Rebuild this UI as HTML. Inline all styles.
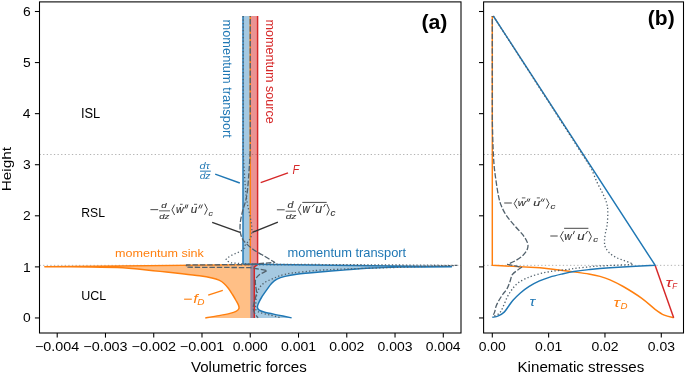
<!DOCTYPE html>
<html><head><meta charset="utf-8"><style>
html,body{margin:0;padding:0;background:#fff;overflow:hidden;}
svg{display:block;will-change:transform;}
text{font-family:"Liberation Sans", sans-serif;}
</style></head><body>
<svg width="685" height="373" viewBox="0 0 685 373">
<rect x="0" y="0" width="685" height="373" fill="#fff"/>
<line x1="39.50" y1="154.50" x2="461.00" y2="154.50" stroke="#b3b3b3" stroke-width="1.0" stroke-linecap="butt" stroke-dasharray="1.3,2.3"/>
<line x1="483.60" y1="154.50" x2="683.50" y2="154.50" stroke="#b3b3b3" stroke-width="1.0" stroke-linecap="butt" stroke-dasharray="1.3,2.3"/>
<line x1="39.50" y1="265.35" x2="461.00" y2="265.35" stroke="#b3b3b3" stroke-width="1.0" stroke-linecap="butt" stroke-dasharray="1.3,2.3"/>
<line x1="483.60" y1="265.35" x2="683.50" y2="265.35" stroke="#b3b3b3" stroke-width="1.0" stroke-linecap="butt" stroke-dasharray="1.3,2.3"/>
<path d="M250.25,16.00 L257.60,16.00 L257.60,264.60 L254.30,266.90 L254.30,317.95 L250.25,317.95 Z" fill="#d62728" fill-opacity="0.5" stroke="none"/>
<path d="M250.25,16.00 L243.00,16.00 L243.00,264.10 L451.50,266.80 C442.92,266.86 414.13,266.90 400.00,267.15 C385.87,267.40 376.13,267.81 366.70,268.30 C357.27,268.79 351.18,269.48 343.40,270.10 C335.62,270.72 327.78,271.30 320.00,272.00 C312.22,272.70 302.53,273.57 296.70,274.30 C290.87,275.03 288.28,275.58 285.00,276.40 C281.72,277.22 279.25,278.02 277.00,279.20 C274.75,280.38 273.25,281.67 271.50,283.50 C269.75,285.33 268.17,287.87 266.50,290.20 C264.83,292.53 262.85,295.28 261.50,297.50 C260.15,299.72 259.08,301.87 258.40,303.50 C257.72,305.13 257.27,306.18 257.40,307.30 C257.53,308.42 258.10,309.42 259.20,310.20 C260.30,310.98 260.83,311.18 264.00,312.00 C267.17,312.82 273.60,314.12 278.20,315.10 C282.80,316.08 289.37,317.39 291.60,317.85 L291.60,317.95 L250.25,317.95 Z" fill="#1f77b4" fill-opacity="0.4" stroke="none"/>
<path d="M250.25,264.60 L44.80,266.80 C52.33,266.83 77.00,266.85 90.00,267.00 C103.00,267.15 114.47,267.32 122.80,267.70 C131.13,268.08 133.80,268.68 140.00,269.30 C146.20,269.92 153.33,270.70 160.00,271.40 C166.67,272.10 173.42,272.77 180.00,273.50 C186.58,274.23 194.17,275.05 199.50,275.80 C204.83,276.55 208.75,277.27 212.00,278.00 C215.25,278.73 217.00,279.28 219.00,280.20 C221.00,281.12 222.42,282.12 224.00,283.50 C225.58,284.88 227.08,286.67 228.50,288.50 C229.92,290.33 231.25,292.50 232.50,294.50 C233.75,296.50 234.98,298.67 236.00,300.50 C237.02,302.33 238.13,304.12 238.60,305.50 C239.07,306.88 239.23,307.82 238.80,308.80 C238.37,309.78 237.47,310.63 236.00,311.40 C234.53,312.17 232.82,312.70 230.00,313.40 C227.18,314.10 223.22,314.84 219.10,315.60 C214.98,316.36 207.60,317.56 205.30,317.95 L250.25,317.95 Z" fill="#ff7f0e" fill-opacity="0.5" stroke="none"/>
<path d="M257.60,16.00 L257.60,264.60 L254.30,266.90 L254.30,317.95" fill="none" stroke="#d62728" stroke-width="1.45" stroke-linejoin="round" />
<path d="M250.25,16.00 L250.25,264.60 L44.80,266.80 C52.33,266.83 77.00,266.85 90.00,267.00 C103.00,267.15 114.47,267.32 122.80,267.70 C131.13,268.08 133.80,268.68 140.00,269.30 C146.20,269.92 153.33,270.70 160.00,271.40 C166.67,272.10 173.42,272.77 180.00,273.50 C186.58,274.23 194.17,275.05 199.50,275.80 C204.83,276.55 208.75,277.27 212.00,278.00 C215.25,278.73 217.00,279.28 219.00,280.20 C221.00,281.12 222.42,282.12 224.00,283.50 C225.58,284.88 227.08,286.67 228.50,288.50 C229.92,290.33 231.25,292.50 232.50,294.50 C233.75,296.50 234.98,298.67 236.00,300.50 C237.02,302.33 238.13,304.12 238.60,305.50 C239.07,306.88 239.23,307.82 238.80,308.80 C238.37,309.78 237.47,310.63 236.00,311.40 C234.53,312.17 232.82,312.70 230.00,313.40 C227.18,314.10 223.22,314.84 219.10,315.60 C214.98,316.36 207.60,317.56 205.30,317.95" fill="none" stroke="#ff7f0e" stroke-width="1.45" stroke-linejoin="round" />
<path d="M243.00,16.00 L243.00,264.10 L451.50,266.80 C442.92,266.86 414.13,266.90 400.00,267.15 C385.87,267.40 376.13,267.81 366.70,268.30 C357.27,268.79 351.18,269.48 343.40,270.10 C335.62,270.72 327.78,271.30 320.00,272.00 C312.22,272.70 302.53,273.57 296.70,274.30 C290.87,275.03 288.28,275.58 285.00,276.40 C281.72,277.22 279.25,278.02 277.00,279.20 C274.75,280.38 273.25,281.67 271.50,283.50 C269.75,285.33 268.17,287.87 266.50,290.20 C264.83,292.53 262.85,295.28 261.50,297.50 C260.15,299.72 259.08,301.87 258.40,303.50 C257.72,305.13 257.27,306.18 257.40,307.30 C257.53,308.42 258.10,309.42 259.20,310.20 C260.30,310.98 260.83,311.18 264.00,312.00 C267.17,312.82 273.60,314.12 278.20,315.10 C282.80,316.08 289.37,317.39 291.60,317.85" fill="none" stroke="#1f77b4" stroke-width="1.45" stroke-linejoin="round" />
<path d="M250.25,16.00 L250.25,150.00 C250.14,152.00 249.84,157.98 249.60,162.00 C249.36,166.02 249.15,169.40 248.80,174.10 C248.45,178.80 248.03,185.72 247.50,190.20 C246.97,194.68 246.43,197.45 245.60,201.00 C244.77,204.55 243.38,207.92 242.50,211.50 C241.62,215.08 240.67,219.07 240.30,222.50 C239.93,225.93 239.92,229.33 240.30,232.10 C240.68,234.87 241.63,237.22 242.60,239.10 C243.57,240.98 244.22,241.58 246.10,243.40 C247.98,245.22 251.07,248.00 253.90,250.00 C256.73,252.00 259.65,253.35 263.10,255.40 C266.55,257.45 272.68,261.15 274.60,262.30 L250.00,264.50 L186.40,265.00 L186.40,267.20 L250.00,267.60 L267.30,270.50 C265.97,271.22 261.25,273.30 259.30,274.80 C257.35,276.30 256.22,277.73 255.60,279.50 C254.98,281.27 255.45,283.22 255.60,285.40 C255.75,287.58 256.67,289.97 256.50,292.60 C256.33,295.23 255.15,298.70 254.60,301.20 C254.05,303.70 253.20,305.63 253.20,307.60 C253.20,309.57 253.80,311.28 254.60,313.00 C255.40,314.72 257.43,317.08 258.00,317.90" fill="none" stroke="#52616c" stroke-width="1.3" stroke-linejoin="round" stroke-dasharray="5.45,1.9" stroke-dashoffset="4.4" />
<path d="M243.20,16.00 L243.20,152.00 C243.37,155.00 243.87,164.50 244.20,170.00 C244.53,175.50 244.88,180.75 245.20,185.00 C245.52,189.25 245.67,192.02 246.10,195.50 C246.53,198.98 247.13,202.42 247.80,205.90 C248.47,209.38 249.43,212.90 250.10,216.40 C250.77,219.90 251.60,223.70 251.80,226.90 C252.00,230.10 251.82,233.28 251.30,235.60 C250.78,237.92 249.72,239.20 248.70,240.80 C247.68,242.40 246.22,243.67 245.20,245.20 C244.18,246.73 244.90,248.28 242.60,250.00 C240.30,251.72 234.15,253.88 231.40,255.50 C228.65,257.12 226.17,258.47 226.10,259.70 C226.03,260.93 230.18,262.37 231.00,262.90 L250.00,264.10 L400.00,265.00 L457.80,265.40 L400.00,267.30 C388.33,267.68 346.23,268.83 330.00,269.60 C313.77,270.37 310.10,271.12 302.60,271.90 C295.10,272.68 289.87,273.22 285.00,274.30 C280.13,275.38 276.90,276.95 273.40,278.40 C269.90,279.85 266.43,281.25 264.00,283.00 C261.57,284.75 260.05,286.73 258.80,288.90 C257.55,291.07 257.02,293.32 256.50,296.00 C255.98,298.68 255.80,302.70 255.70,305.00 C255.60,307.30 255.18,308.55 255.90,309.80 C256.62,311.05 257.65,311.63 260.00,312.50 C262.35,313.37 266.67,314.17 270.00,315.00 C273.33,315.83 278.33,317.08 280.00,317.50" fill="none" stroke="#52616c" stroke-width="1.3" stroke-linejoin="round" stroke-dasharray="1.3,2.2" />
<line x1="215.20" y1="174.10" x2="239.80" y2="183.00" stroke="#1f77b4" stroke-width="1.4" stroke-linecap="butt"/>
<line x1="260.70" y1="182.70" x2="288.00" y2="172.80" stroke="#d62728" stroke-width="1.4" stroke-linecap="butt"/>
<line x1="212.20" y1="222.30" x2="240.00" y2="232.30" stroke="#333" stroke-width="1.4" stroke-linecap="butt"/>
<line x1="277.90" y1="222.10" x2="252.40" y2="232.30" stroke="#333" stroke-width="1.4" stroke-linecap="butt"/>
<line x1="208.20" y1="295.10" x2="222.80" y2="290.30" stroke="#ff7f0e" stroke-width="1.4" stroke-linecap="butt"/>
<path d="M492.30,16.00 L492.30,265.30 L540.00,267.80 C543.13,268.17 553.17,269.32 558.80,270.00 C564.43,270.68 568.80,271.23 573.80,271.90 C578.80,272.57 584.43,273.25 588.80,274.00 C593.17,274.75 596.47,275.43 600.00,276.40 C603.53,277.37 606.13,278.12 610.00,279.80 C613.87,281.48 617.95,283.45 623.20,286.50 C628.45,289.55 636.18,294.30 641.50,298.10 C646.82,301.90 651.30,306.45 655.10,309.30 C658.90,312.15 661.22,313.80 664.30,315.20 C667.38,316.60 672.05,317.28 673.60,317.70" fill="none" stroke="#ff7f0e" stroke-width="1.45" stroke-linejoin="round" />
<path d="M655.10,265.20 L673.70,317.85" fill="none" stroke="#d62728" stroke-width="1.45" stroke-linejoin="round" />
<path d="M493.30,16.00 L655.10,265.20 C647.58,265.63 621.05,267.07 610.00,267.80 C598.95,268.53 594.83,268.98 588.80,269.60 C582.77,270.22 578.33,270.75 573.80,271.50 C569.27,272.25 565.58,273.17 561.60,274.10 C557.62,275.03 553.58,275.97 549.90,277.10 C546.22,278.23 542.95,279.35 539.50,280.90 C536.05,282.45 532.38,284.38 529.20,286.40 C526.02,288.42 523.10,290.68 520.40,293.00 C517.70,295.32 514.97,298.10 513.00,300.30 C511.03,302.50 510.07,304.23 508.60,306.20 C507.13,308.17 505.92,310.50 504.20,312.10 C502.48,313.70 500.28,314.92 498.30,315.80 C496.32,316.68 493.30,317.13 492.30,317.40" fill="none" stroke="#1f77b4" stroke-width="1.45" stroke-linejoin="round" />
<path d="M492.30,16.00 L492.30,120.00 C492.38,123.33 492.62,134.27 492.80,140.00 C492.98,145.73 493.15,149.80 493.40,154.40 C493.65,159.00 493.88,163.33 494.30,167.60 C494.72,171.87 495.23,175.43 495.90,180.00 C496.57,184.57 497.45,190.83 498.30,195.00 C499.15,199.17 499.70,201.65 501.00,205.00 C502.30,208.35 503.92,211.75 506.10,215.10 C508.28,218.45 511.27,221.75 514.10,225.10 C516.93,228.45 520.85,232.18 523.10,235.20 C525.35,238.22 526.90,240.87 527.60,243.20 C528.30,245.53 528.05,247.20 527.30,249.20 C526.55,251.20 524.97,253.35 523.10,255.20 C521.23,257.05 518.68,258.77 516.10,260.30 C513.52,261.83 509.02,263.72 507.60,264.40 L521.60,267.20 C520.92,267.70 519.05,268.97 517.50,270.20 C515.95,271.43 513.53,272.77 512.30,274.60 C511.07,276.43 510.97,278.87 510.10,281.20 C509.23,283.53 508.33,286.38 507.10,288.60 C505.87,290.82 504.05,292.55 502.70,294.50 C501.35,296.45 500.10,298.35 499.00,300.30 C497.90,302.25 496.83,304.23 496.10,306.20 C495.37,308.17 495.22,310.33 494.60,312.10 C493.98,313.87 492.77,316.02 492.40,316.80" fill="none" stroke="#52616c" stroke-width="1.3" stroke-linejoin="round" stroke-dasharray="5.45,1.9" stroke-dashoffset="4.4" />
<path d="M493.30,16.00 L580.00,150.70 C580.93,152.18 583.72,156.58 585.60,159.60 C587.48,162.62 589.42,165.07 591.30,168.80 C593.18,172.53 595.02,177.93 596.90,182.00 C598.78,186.07 600.98,189.70 602.60,193.20 C604.22,196.70 605.73,199.98 606.60,203.00 C607.47,206.02 607.70,207.73 607.80,211.30 C607.90,214.87 607.62,220.65 607.20,224.40 C606.78,228.15 605.75,230.97 605.30,233.80 C604.85,236.63 604.50,239.20 604.50,241.40 C604.50,243.60 604.53,245.13 605.30,247.00 C606.07,248.87 607.37,250.88 609.10,252.60 C610.83,254.32 613.35,256.03 615.70,257.30 C618.05,258.57 620.70,259.25 623.20,260.20 C625.70,261.15 629.07,262.30 630.70,263.00 C632.33,263.70 632.62,264.17 633.00,264.40 L595.00,266.20 C592.08,266.52 582.00,267.57 577.50,268.10 C573.00,268.63 572.60,268.82 568.00,269.40 C563.40,269.98 555.13,270.73 549.90,271.60 C544.67,272.47 540.53,273.48 536.60,274.60 C532.67,275.72 529.48,276.83 526.30,278.30 C523.12,279.77 519.95,281.45 517.50,283.40 C515.05,285.35 513.33,287.67 511.60,290.00 C509.87,292.33 508.58,294.45 507.10,297.40 C505.62,300.35 504.05,305.00 502.70,307.70 C501.35,310.40 500.68,312.08 499.00,313.60 C497.32,315.12 493.67,316.27 492.60,316.80" fill="none" stroke="#52616c" stroke-width="1.3" stroke-linejoin="round" stroke-dasharray="1.3,2.2" />
<rect x="39.5" y="1.9" width="421.50" height="331.10" fill="none" stroke="#000" stroke-width="1.07"/>
<rect x="483.6" y="1.9" width="199.90" height="331.10" fill="none" stroke="#000" stroke-width="1.07"/>
<line x1="34.90" y1="317.95" x2="39.50" y2="317.95" stroke="#000" stroke-width="1.07" stroke-linecap="butt"/>
<line x1="479.00" y1="317.95" x2="483.60" y2="317.95" stroke="#000" stroke-width="1.07" stroke-linecap="butt"/>
<line x1="34.90" y1="266.88" x2="39.50" y2="266.88" stroke="#000" stroke-width="1.07" stroke-linecap="butt"/>
<line x1="479.00" y1="266.88" x2="483.60" y2="266.88" stroke="#000" stroke-width="1.07" stroke-linecap="butt"/>
<line x1="34.90" y1="215.80" x2="39.50" y2="215.80" stroke="#000" stroke-width="1.07" stroke-linecap="butt"/>
<line x1="479.00" y1="215.80" x2="483.60" y2="215.80" stroke="#000" stroke-width="1.07" stroke-linecap="butt"/>
<line x1="34.90" y1="164.72" x2="39.50" y2="164.72" stroke="#000" stroke-width="1.07" stroke-linecap="butt"/>
<line x1="479.00" y1="164.72" x2="483.60" y2="164.72" stroke="#000" stroke-width="1.07" stroke-linecap="butt"/>
<line x1="34.90" y1="113.65" x2="39.50" y2="113.65" stroke="#000" stroke-width="1.07" stroke-linecap="butt"/>
<line x1="479.00" y1="113.65" x2="483.60" y2="113.65" stroke="#000" stroke-width="1.07" stroke-linecap="butt"/>
<line x1="34.90" y1="62.57" x2="39.50" y2="62.57" stroke="#000" stroke-width="1.07" stroke-linecap="butt"/>
<line x1="479.00" y1="62.57" x2="483.60" y2="62.57" stroke="#000" stroke-width="1.07" stroke-linecap="butt"/>
<line x1="34.90" y1="11.50" x2="39.50" y2="11.50" stroke="#000" stroke-width="1.07" stroke-linecap="butt"/>
<line x1="479.00" y1="11.50" x2="483.60" y2="11.50" stroke="#000" stroke-width="1.07" stroke-linecap="butt"/>
<line x1="57.21" y1="333.00" x2="57.21" y2="337.60" stroke="#000" stroke-width="1.07" stroke-linecap="butt"/>
<line x1="105.47" y1="333.00" x2="105.47" y2="337.60" stroke="#000" stroke-width="1.07" stroke-linecap="butt"/>
<line x1="153.73" y1="333.00" x2="153.73" y2="337.60" stroke="#000" stroke-width="1.07" stroke-linecap="butt"/>
<line x1="201.99" y1="333.00" x2="201.99" y2="337.60" stroke="#000" stroke-width="1.07" stroke-linecap="butt"/>
<line x1="250.25" y1="333.00" x2="250.25" y2="337.60" stroke="#000" stroke-width="1.07" stroke-linecap="butt"/>
<line x1="298.51" y1="333.00" x2="298.51" y2="337.60" stroke="#000" stroke-width="1.07" stroke-linecap="butt"/>
<line x1="346.77" y1="333.00" x2="346.77" y2="337.60" stroke="#000" stroke-width="1.07" stroke-linecap="butt"/>
<line x1="395.03" y1="333.00" x2="395.03" y2="337.60" stroke="#000" stroke-width="1.07" stroke-linecap="butt"/>
<line x1="443.29" y1="333.00" x2="443.29" y2="337.60" stroke="#000" stroke-width="1.07" stroke-linecap="butt"/>
<line x1="492.30" y1="333.00" x2="492.30" y2="337.60" stroke="#000" stroke-width="1.07" stroke-linecap="butt"/>
<line x1="548.63" y1="333.00" x2="548.63" y2="337.60" stroke="#000" stroke-width="1.07" stroke-linecap="butt"/>
<line x1="604.96" y1="333.00" x2="604.96" y2="337.60" stroke="#000" stroke-width="1.07" stroke-linecap="butt"/>
<line x1="661.29" y1="333.00" x2="661.29" y2="337.60" stroke="#000" stroke-width="1.07" stroke-linecap="butt"/>
<text x="22.92" y="322.47" font-size="13.14" fill="#000" font-weight="normal" font-style="normal" textLength="7.72" lengthAdjust="spacingAndGlyphs" >0</text>
<text x="23.06" y="271.52" font-size="13.52" fill="#000" font-weight="normal" font-style="normal" textLength="7.72" lengthAdjust="spacingAndGlyphs" >1</text>
<text x="23.08" y="220.45" font-size="13.32" fill="#000" font-weight="normal" font-style="normal" textLength="7.72" lengthAdjust="spacingAndGlyphs" >2</text>
<text x="22.99" y="169.24" font-size="13.14" fill="#000" font-weight="normal" font-style="normal" textLength="7.72" lengthAdjust="spacingAndGlyphs" >3</text>
<text x="22.78" y="118.30" font-size="13.52" fill="#000" font-weight="normal" font-style="normal" textLength="7.72" lengthAdjust="spacingAndGlyphs" >4</text>
<text x="22.96" y="67.09" font-size="13.32" fill="#000" font-weight="normal" font-style="normal" textLength="7.72" lengthAdjust="spacingAndGlyphs" >5</text>
<text x="22.99" y="16.02" font-size="13.14" fill="#000" font-weight="normal" font-style="normal" textLength="7.72" lengthAdjust="spacingAndGlyphs" >6</text>
<text x="35.01" y="350.77" font-size="12.57" fill="#000" font-weight="normal" font-style="normal" textLength="44.12" lengthAdjust="spacingAndGlyphs" >−0.004</text>
<text x="83.27" y="350.77" font-size="12.57" fill="#000" font-weight="normal" font-style="normal" textLength="44.34" lengthAdjust="spacingAndGlyphs" >−0.003</text>
<text x="131.52" y="350.77" font-size="12.57" fill="#000" font-weight="normal" font-style="normal" textLength="44.43" lengthAdjust="spacingAndGlyphs" >−0.002</text>
<text x="179.78" y="350.77" font-size="12.57" fill="#000" font-weight="normal" font-style="normal" textLength="44.42" lengthAdjust="spacingAndGlyphs" >−0.001</text>
<text x="232.81" y="350.77" font-size="12.57" fill="#000" font-weight="normal" font-style="normal" textLength="34.89" lengthAdjust="spacingAndGlyphs" >0.000</text>
<text x="281.06" y="350.77" font-size="12.57" fill="#000" font-weight="normal" font-style="normal" textLength="35.04" lengthAdjust="spacingAndGlyphs" >0.001</text>
<text x="329.32" y="350.77" font-size="12.57" fill="#000" font-weight="normal" font-style="normal" textLength="35.05" lengthAdjust="spacingAndGlyphs" >0.002</text>
<text x="377.59" y="350.77" font-size="12.57" fill="#000" font-weight="normal" font-style="normal" textLength="34.97" lengthAdjust="spacingAndGlyphs" >0.003</text>
<text x="425.85" y="350.77" font-size="12.57" fill="#000" font-weight="normal" font-style="normal" textLength="34.75" lengthAdjust="spacingAndGlyphs" >0.004</text>
<text x="478.76" y="350.87" font-size="12.85" fill="#000" font-weight="normal" font-style="normal" textLength="27.09" lengthAdjust="spacingAndGlyphs" >0.00</text>
<text x="535.08" y="350.87" font-size="12.85" fill="#000" font-weight="normal" font-style="normal" textLength="27.24" lengthAdjust="spacingAndGlyphs" >0.01</text>
<text x="591.41" y="350.87" font-size="12.85" fill="#000" font-weight="normal" font-style="normal" textLength="27.25" lengthAdjust="spacingAndGlyphs" >0.02</text>
<text x="647.75" y="350.87" font-size="12.85" fill="#000" font-weight="normal" font-style="normal" textLength="27.16" lengthAdjust="spacingAndGlyphs" >0.03</text>
<text x="190.92" y="371.60" font-size="13.79" fill="#000" font-weight="normal" font-style="normal" textLength="115.88" lengthAdjust="spacingAndGlyphs" >Volumetric forces</text>
<text x="517.56" y="371.60" font-size="14.48" fill="#000" font-weight="normal" font-style="normal" textLength="126.78" lengthAdjust="spacingAndGlyphs" >Kinematic stresses</text>
<text x="-191.26" y="11.00" font-size="12.97" fill="#000" font-weight="normal" font-style="normal" textLength="44.36" lengthAdjust="spacingAndGlyphs" transform="rotate(-90)" >Height</text>
<text x="80.92" y="118.00" font-size="14.18" fill="#000" font-weight="normal" font-style="normal" textLength="19.31" lengthAdjust="spacingAndGlyphs" >ISL</text>
<text x="81.30" y="216.90" font-size="13.18" fill="#000" font-weight="normal" font-style="normal" textLength="23.71" lengthAdjust="spacingAndGlyphs" >RSL</text>
<text x="81.34" y="300.00" font-size="13.61" fill="#000" font-weight="normal" font-style="normal" textLength="24.98" lengthAdjust="spacingAndGlyphs" >UCL</text>
<text x="421.43" y="28.82" font-size="20.58" fill="#000" font-weight="bold" font-style="normal" textLength="26.03" lengthAdjust="spacingAndGlyphs" >(a)</text>
<text x="647.85" y="25.36" font-size="20.36" fill="#000" font-weight="bold" font-style="normal" textLength="26.80" lengthAdjust="spacingAndGlyphs" >(b)</text>
<text x="19.55" y="-223.30" font-size="12.07" fill="#1f77b4" font-weight="normal" font-style="normal" textLength="118.33" lengthAdjust="spacingAndGlyphs" transform="rotate(90)" >momentum transport</text>
<text x="19.57" y="-265.70" font-size="12.07" fill="#d62728" font-weight="normal" font-style="normal" textLength="104.18" lengthAdjust="spacingAndGlyphs" transform="rotate(90)" >momentum source</text>
<text x="115.07" y="256.90" font-size="11.17" fill="#ff7f0e" font-weight="normal" font-style="normal" textLength="88.71" lengthAdjust="spacingAndGlyphs" >momentum sink</text>
<text x="287.55" y="256.60" font-size="12.38" fill="#1f77b4" font-weight="normal" font-style="normal" textLength="118.63" lengthAdjust="spacingAndGlyphs" >momentum transport</text>
<text x="199.63" y="168.50" font-size="8.41" fill="#1f77b4" font-weight="normal" font-style="italic" textLength="10.22" lengthAdjust="spacingAndGlyphs" >dτ</text>
<line x1="200.0" y1="171.15" x2="210.8" y2="171.15" stroke="#1f77b4" stroke-width="1.0"/>
<text x="199.65" y="178.90" font-size="8.41" fill="#1f77b4" font-weight="normal" font-style="italic" textLength="10.90" lengthAdjust="spacingAndGlyphs" >dz</text>
<text x="292.56" y="173.80" font-size="12.79" fill="#d62728" font-weight="normal" font-style="italic" textLength="6.72" lengthAdjust="spacingAndGlyphs" >F</text>
<line x1="184.1" y1="299.2" x2="191.8" y2="299.2" stroke="#ff7f0e" stroke-width="1.1"/>
<text x="193.25" y="302.90" font-size="13.10" fill="#ff7f0e" font-weight="normal" font-style="italic" textLength="4.46" lengthAdjust="spacingAndGlyphs" >f</text>
<text x="197.29" y="304.70" font-size="8.43" fill="#ff7f0e" font-weight="normal" font-style="italic" textLength="7.23" lengthAdjust="spacingAndGlyphs" >D</text>
<line x1="150.40" y1="209.65" x2="158.20" y2="209.65" stroke="#333333" stroke-width="0.9"/>
<text x="161.37" y="207.50" font-size="7.72" fill="#333333" font-weight="normal" font-style="italic" textLength="5.38" lengthAdjust="spacingAndGlyphs" stroke="#333333" stroke-width="0.12">d</text>
<line x1="159.00" y1="210.85" x2="170.00" y2="210.85" stroke="#333333" stroke-width="0.8"/>
<text x="159.17" y="219.00" font-size="7.31" fill="#333333" font-weight="normal" font-style="italic" textLength="10.16" lengthAdjust="spacingAndGlyphs" stroke="#333333" stroke-width="0.12">dz</text>
<path d="M174.60,204.60 L171.90,209.80 L174.60,215.00" fill="none" stroke="#333333" stroke-width="0.9" stroke-linejoin="miter"/>
<text x="176.07" y="213.20" font-size="10.98" fill="#333333" font-weight="normal" font-style="italic" textLength="7.66" lengthAdjust="spacingAndGlyphs" stroke="#333333" stroke-width="0.12">w</text>
<line x1="180.00" y1="204.30" x2="182.70" y2="204.30" stroke="#333333" stroke-width="0.8"/>
<line x1="186.00" y1="204.90" x2="185.00" y2="208.10" stroke="#333333" stroke-width="0.95" stroke-linecap="round"/>
<line x1="187.80" y1="204.90" x2="186.80" y2="208.10" stroke="#333333" stroke-width="0.95" stroke-linecap="round"/>
<text x="190.81" y="213.20" font-size="10.98" fill="#333333" font-weight="normal" font-style="italic" textLength="6.53" lengthAdjust="spacingAndGlyphs" stroke="#333333" stroke-width="0.12">u</text>
<line x1="194.00" y1="204.30" x2="197.10" y2="204.30" stroke="#333333" stroke-width="0.8"/>
<line x1="200.15" y1="204.90" x2="198.80" y2="208.10" stroke="#333333" stroke-width="0.95" stroke-linecap="round"/>
<line x1="202.30" y1="204.90" x2="200.95" y2="208.10" stroke="#333333" stroke-width="0.95" stroke-linecap="round"/>
<path d="M204.60,203.70 L207.30,209.20 L204.60,214.70" fill="none" stroke="#333333" stroke-width="0.9" stroke-linejoin="miter"/>
<text x="208.51" y="215.60" font-size="7.43" fill="#333333" font-weight="normal" font-style="italic" textLength="4.39" lengthAdjust="spacingAndGlyphs" stroke="#333333" stroke-width="0.12">c</text>
<line x1="276.90" y1="209.80" x2="284.70" y2="209.80" stroke="#333333" stroke-width="0.9"/>
<text x="287.54" y="208.30" font-size="8.83" fill="#333333" font-weight="normal" font-style="italic" textLength="5.89" lengthAdjust="spacingAndGlyphs" stroke="#333333" stroke-width="0.12">d</text>
<line x1="285.60" y1="211.20" x2="295.90" y2="211.20" stroke="#333333" stroke-width="0.8"/>
<text x="285.66" y="218.90" font-size="8.00" fill="#333333" font-weight="normal" font-style="italic" textLength="10.69" lengthAdjust="spacingAndGlyphs" stroke="#333333" stroke-width="0.12">dz</text>
<path d="M301.10,204.10 L298.30,209.60 L301.10,215.10" fill="none" stroke="#333333" stroke-width="0.9" stroke-linejoin="miter"/>
<line x1="302.30" y1="202.40" x2="326.70" y2="202.40" stroke="#333333" stroke-width="0.9"/>
<text x="302.39" y="213.40" font-size="13.26" fill="#333333" font-weight="normal" font-style="italic" textLength="7.36" lengthAdjust="spacingAndGlyphs" stroke="#333333" stroke-width="0.12">w</text>
<line x1="314.30" y1="204.40" x2="312.40" y2="206.80" stroke="#333333" stroke-width="0.95" stroke-linecap="round"/>
<text x="315.28" y="213.40" font-size="13.26" fill="#333333" font-weight="normal" font-style="italic" textLength="6.87" lengthAdjust="spacingAndGlyphs" stroke="#333333" stroke-width="0.12">u</text>
<line x1="325.20" y1="204.40" x2="323.70" y2="206.80" stroke="#333333" stroke-width="0.95" stroke-linecap="round"/>
<path d="M326.80,204.10 L329.30,209.75 L326.80,215.40" fill="none" stroke="#333333" stroke-width="0.9" stroke-linejoin="miter"/>
<text x="330.57" y="215.70" font-size="9.67" fill="#333333" font-weight="normal" font-style="italic" textLength="4.93" lengthAdjust="spacingAndGlyphs" stroke="#333333" stroke-width="0.12">c</text>
<line x1="504.20" y1="203.00" x2="511.80" y2="203.00" stroke="#333333" stroke-width="0.9"/>
<path d="M517.10,198.60 L514.20,203.60 L517.10,208.60" fill="none" stroke="#333333" stroke-width="0.9" stroke-linejoin="miter"/>
<text x="517.86" y="206.00" font-size="9.85" fill="#333333" font-weight="normal" font-style="italic" textLength="7.86" lengthAdjust="spacingAndGlyphs" stroke="#333333" stroke-width="0.12">w</text>
<line x1="521.90" y1="197.90" x2="525.40" y2="197.90" stroke="#333333" stroke-width="0.8"/>
<line x1="527.95" y1="198.90" x2="526.90" y2="201.40" stroke="#333333" stroke-width="0.95" stroke-linecap="round"/>
<line x1="529.80" y1="198.90" x2="528.75" y2="201.40" stroke="#333333" stroke-width="0.95" stroke-linecap="round"/>
<text x="533.17" y="206.00" font-size="9.85" fill="#333333" font-weight="normal" font-style="italic" textLength="6.98" lengthAdjust="spacingAndGlyphs" stroke="#333333" stroke-width="0.12">u</text>
<line x1="536.80" y1="197.90" x2="539.90" y2="197.90" stroke="#333333" stroke-width="0.8"/>
<line x1="542.20" y1="198.90" x2="540.90" y2="201.40" stroke="#333333" stroke-width="0.95" stroke-linecap="round"/>
<line x1="544.30" y1="198.90" x2="543.00" y2="201.40" stroke="#333333" stroke-width="0.95" stroke-linecap="round"/>
<path d="M546.40,198.60 L549.00,203.60 L546.40,208.60" fill="none" stroke="#333333" stroke-width="0.9" stroke-linejoin="miter"/>
<text x="550.48" y="208.60" font-size="7.25" fill="#333333" font-weight="normal" font-style="italic" textLength="4.82" lengthAdjust="spacingAndGlyphs" stroke="#333333" stroke-width="0.12">c</text>
<line x1="550.30" y1="236.00" x2="557.70" y2="236.00" stroke="#333333" stroke-width="0.9"/>
<path d="M563.40,231.20 L560.40,236.45 L563.40,241.70" fill="none" stroke="#333333" stroke-width="0.9" stroke-linejoin="miter"/>
<line x1="564.10" y1="228.30" x2="588.40" y2="228.30" stroke="#333333" stroke-width="0.9"/>
<text x="564.18" y="239.50" font-size="10.80" fill="#333333" font-weight="normal" font-style="italic" textLength="7.46" lengthAdjust="spacingAndGlyphs" stroke="#333333" stroke-width="0.12">w</text>
<line x1="574.30" y1="231.30" x2="573.40" y2="233.80" stroke="#333333" stroke-width="0.95" stroke-linecap="round"/>
<text x="577.24" y="239.50" font-size="10.80" fill="#333333" font-weight="normal" font-style="italic" textLength="7.43" lengthAdjust="spacingAndGlyphs" stroke="#333333" stroke-width="0.12">u</text>
<line x1="587.40" y1="231.30" x2="585.80" y2="233.80" stroke="#333333" stroke-width="0.95" stroke-linecap="round"/>
<path d="M588.80,231.20 L591.40,236.45 L588.80,241.70" fill="none" stroke="#333333" stroke-width="0.9" stroke-linejoin="miter"/>
<text x="593.28" y="242.10" font-size="7.99" fill="#333333" font-weight="normal" font-style="italic" textLength="4.82" lengthAdjust="spacingAndGlyphs" stroke="#333333" stroke-width="0.12">c</text>
<text x="529.53" y="306.28" font-size="12.45" fill="#1f77b4" font-weight="normal" font-style="italic" textLength="5.78" lengthAdjust="spacingAndGlyphs" >τ</text>
<text x="613.45" y="306.57" font-size="13.38" fill="#ff7f0e" font-weight="normal" font-style="italic" textLength="6.56" lengthAdjust="spacingAndGlyphs" >τ</text>
<text x="620.50" y="308.70" font-size="9.88" fill="#ff7f0e" font-weight="normal" font-style="italic" textLength="7.01" lengthAdjust="spacingAndGlyphs" >D</text>
<text x="665.41" y="286.77" font-size="13.38" fill="#d62728" font-weight="normal" font-style="italic" textLength="6.94" lengthAdjust="spacingAndGlyphs" >τ</text>
<text x="672.25" y="288.70" font-size="8.72" fill="#d62728" font-weight="normal" font-style="italic" textLength="4.87" lengthAdjust="spacingAndGlyphs" >F</text>
</svg>
</body></html>
